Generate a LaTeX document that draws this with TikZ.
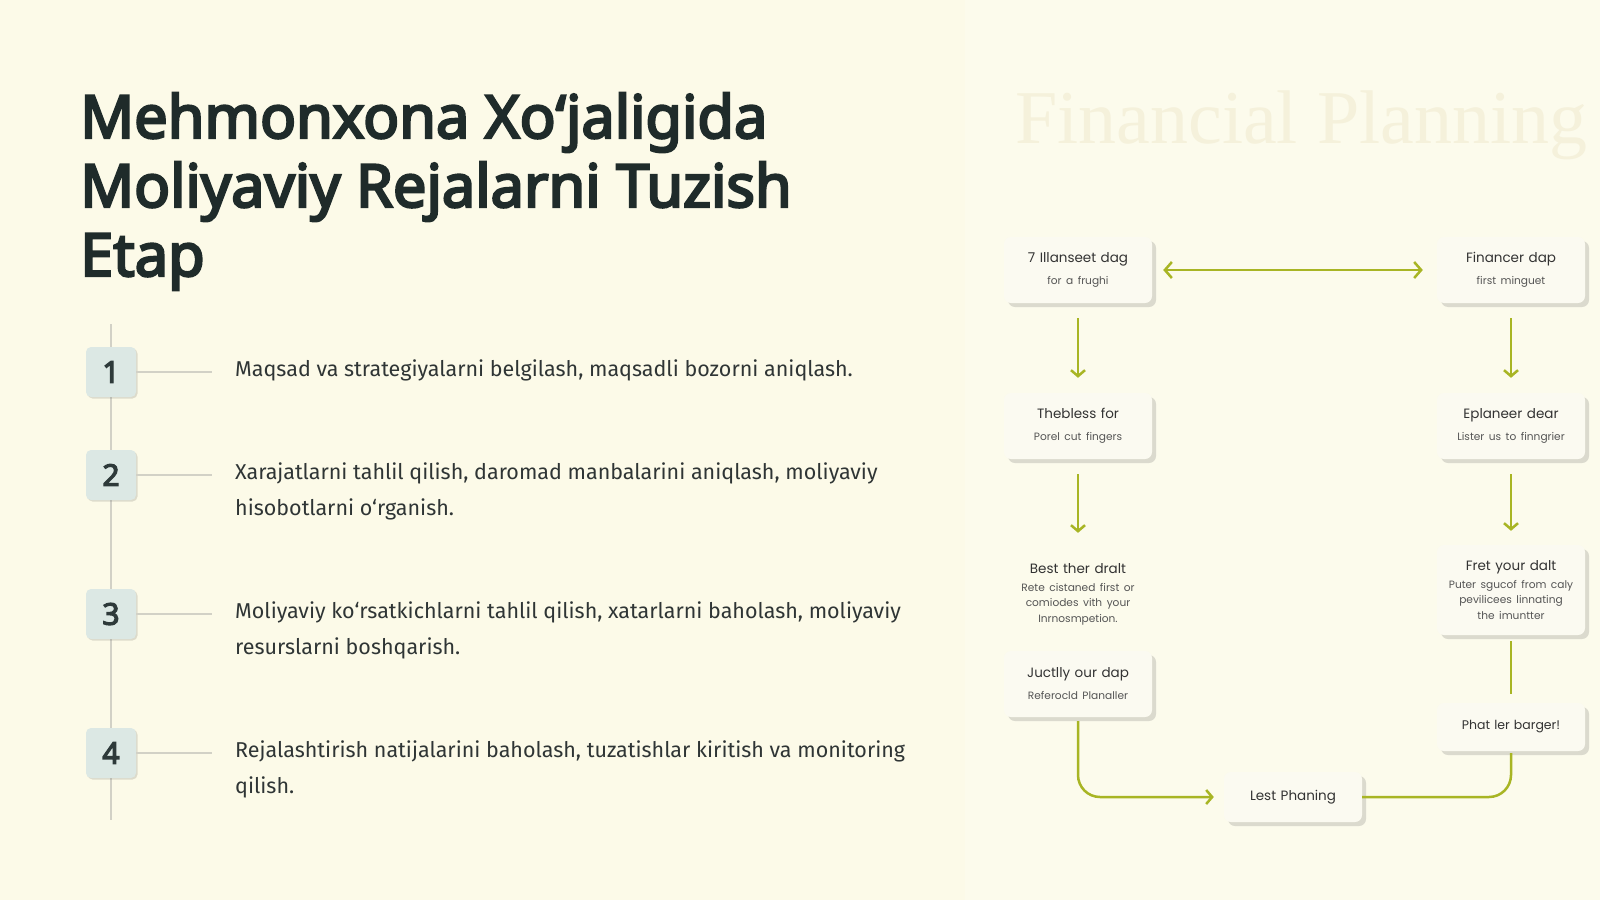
\documentclass[tikz,border=0pt]{standalone}
\usepackage{fontspec}
\setmainfont{Fira Sans}
\newfontfamily\titlefont{Noto Sans}[AutoFakeBold=4]
\newfontfamily\flowfont{Poppins}
\newfontfamily\wmfont{Liberation Serif}
\usetikzlibrary{shadows,arrows.meta}
\definecolor{bg}{HTML}{FCFAE8}
\definecolor{panel}{HTML}{FCFBEC}
\definecolor{titlecol}{HTML}{1F2B2A}
\definecolor{numfill}{HTML}{DCE8E4}
\definecolor{numcol}{HTML}{2E3A3A}
\definecolor{linegray}{HTML}{D2D1C6}
\definecolor{bodycol}{HTML}{2F3535}
\definecolor{olive}{HTML}{A8B524}
\definecolor{boxfill}{HTML}{FBFAF1}
\definecolor{flowtext}{HTML}{333333}
\definecolor{flowsub}{HTML}{555555}
\definecolor{wmcol}{HTML}{F5F1DB}
\tikzset{
  titletext/.style={anchor=base west, inner sep=0pt, text=titlecol,
    font=\titlefont\bfseries\fontsize{59.5}{69}\selectfont},
  numbox/.style={minimum width=50pt, minimum height=50pt, rounded corners=5pt,
    fill=numfill, text=numcol, inner sep=0pt,
    font=\titlefont\bfseries\fontsize{30}{30}\selectfont,
    drop shadow={shadow xshift=1.5pt, shadow yshift=-1.5pt, opacity=0.12, fill=black}},
  itemtext/.style={anchor=base west, inner sep=0pt, text=bodycol,
    font=\fontsize{21.5}{36}\selectfont},
  vline/.style={draw=linegray, line width=2pt},
  conn/.style={draw=linegray, line width=2pt},
  flowbox/.style={minimum width=148pt, text width=142pt, rounded corners=7pt, fill=boxfill,
    align=center, inner sep=3pt, text=flowtext,
    font=\flowfont\fontsize{13.5}{16}\selectfont,
    drop shadow={shadow xshift=4pt, shadow yshift=-4pt, opacity=0.22, fill=black!60}},
  flowplain/.style={minimum width=148pt, text width=142pt, align=center, inner sep=3pt, text=flowtext,
    font=\flowfont\fontsize{13.5}{16}\selectfont},
  arr/.style={draw=olive, line width=2.5pt, -{Straight Barb[length=6pt,width=14pt]}},
  arrboth/.style={draw=olive, line width=2.5pt,
    {Straight Barb[length=7pt,width=16pt]}-{Straight Barb[length=7pt,width=16pt]}},
  plainline/.style={draw=olive, line width=2.5pt},
  wm/.style={anchor=base west, inner sep=0pt, text=wmcol,
    font=\wmfont\fontsize{76}{76}\selectfont}
}
\newcommand{\subtxt}{\fontsize{10.6}{15}\selectfont\color{flowsub}}
\begin{document}
\begin{tikzpicture}[x=1pt,y=-1pt]
\useasboundingbox (0,0) rectangle (1600,900);
\fill[bg] (0,0) rectangle (1600,900);
\fill[panel] (965,0) rectangle (1600,900);

% title
\node[titletext] (t1) at (80,138) {Mehmonxona Xo‘jaligida};
\node[titletext] (t2) at (80,207) {Moliyaviy Rejalarni Tuzish};
\node[titletext] (t3) at (80,276) {Etap};

% timeline
\coordinate (vtop) at (111,324);
\coordinate (vbot) at (111,820);
\draw[vline] (vtop) -- (vbot);
\coordinate (e1) at (212,372);
\coordinate (e2) at (212,475);
\coordinate (e3) at (212,614);
\coordinate (e4) at (212,753);
\node[numbox] (n1) at (111,372) {1};
\node[numbox] (n2) at (111,475) {2};
\node[numbox] (n3) at (111,614) {3};
\node[numbox] (n4) at (111,753) {4};
\draw[conn] (n1.east) -- (e1);
\draw[conn] (n2.east) -- (e2);
\draw[conn] (n3.east) -- (e3);
\draw[conn] (n4.east) -- (e4);

\node[itemtext] (i1) at (235,376) {\parbox[t]{720pt}{Maqsad va strategiyalarni belgilash, maqsadli bozorni aniqlash.}};
\node[itemtext] (i2) at (235,479) {\parbox[t]{720pt}{Xarajatlarni tahlil qilish, daromad manbalarini aniqlash, moliyaviy\\hisobotlarni o‘rganish.}};
\node[itemtext] (i3) at (235,618) {\parbox[t]{720pt}{Moliyaviy ko‘rsatkichlarni tahlil qilish, xatarlarni baholash, moliyaviy\\resurslarni boshqarish.}};
\node[itemtext] (i4) at (235,757) {\parbox[t]{720pt}{Rejalashtirish natijalarini baholash, tuzatishlar kiritish va monitoring\\qilish.}};

% watermark
\node[wm] (wmark) at (1015,143) {Financial Planning};

% flowchart
\node[flowbox, minimum height=66pt] (A) at (1078,270) {7 Illanseet dag\\[6pt]\subtxt for a frughi};
\node[flowbox, minimum height=66pt] (B) at (1511,270) {Financer dap\\[6pt]\subtxt first minguet};
\node[flowbox, minimum height=66pt] (C) at (1078,426) {Thebless for\\[6pt]\subtxt Porel cut fingers};
\node[flowbox, minimum height=66pt] (D) at (1511,426) {Eplaneer dear\\[6pt]\subtxt Lister us to finngrier};
\node[flowplain, minimum height=86pt] (E) at (1078,594) {Best ther dralt\\[3pt]\subtxt Rete cistaned first or\\comiodes vith your\\Inrnosmpetion.};
\node[flowbox, minimum height=90pt] (F) at (1511,590) {Fret your dalt\\[3pt]\subtxt Puter sgucof from caly\\pevilicees linnating\\the imuntter};
\node[flowbox, minimum height=66pt] (G) at (1078,684) {Juctlly our dap\\[6pt]\subtxt Referocld Planaller};
\node[flowbox, minimum height=48pt, font=\flowfont\fontsize{12.5}{14}\selectfont] (H) at (1511,727) {Phat ler barger!};
\node[flowbox, minimum width=138pt, text width=132pt, minimum height=50pt] (I) at (1293,797) {Lest Phaning};

\draw[arrboth, shorten <=11pt, shorten >=14pt] (A.east) -- (B.west);
\draw[arr, shorten <=15pt, shorten >=15pt] (A.south) -- (C.north);
\draw[arr, shorten <=15pt, shorten >=15pt] (B.south) -- (D.north);
\draw[arr, shorten <=15pt, shorten >=18pt] (C.south) -- (E.north);
\draw[arr, shorten <=15pt, shorten >=14pt] (D.south) -- (F.north);
\draw[plainline, shorten <=6pt, shorten >=9pt] (F.south) -- (H.north);
\draw[arr, rounded corners=22pt, shorten <=4pt, shorten >=10pt] (G.south) |- (I.west);
\draw[plainline, rounded corners=22pt, shorten <=2pt] (H.south) |- (I.east);
\end{tikzpicture}
\end{document}
